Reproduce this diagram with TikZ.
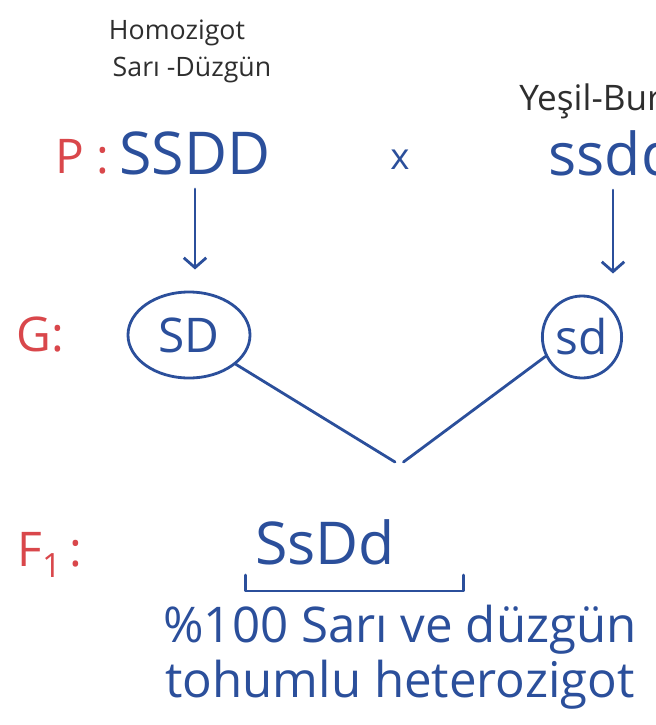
\documentclass[tikz,border=0pt]{standalone}
\usepackage{fontspec}
\setmainfont{Open Sans}
\usetikzlibrary{arrows.meta,shapes.geometric}
\definecolor{penblue}{HTML}{2B4F9B}
\definecolor{penred}{HTML}{D9474B}
\definecolor{pencil}{HTML}{2E2E2E}
\tikzset{
	gen/.style={text=penblue,font=\fontsize{42}{42}\selectfont,inner sep=0pt},
	lbl/.style={text=penred,font=\fontsize{34}{34}\selectfont,inner sep=0pt},
	note/.style={text=pencil,font=\fontsize{19}{21}\selectfont,inner sep=0pt},
	gamete/.style={draw=penblue,ellipse,line width=2pt,text=penblue,font=\fontsize{34}{34}\selectfont,inner sep=0pt},
	res/.style={text=penblue,font=\fontsize{35}{39}\selectfont,inner sep=0pt,align=center},
	pen/.style={draw=penblue,line width=2pt},
}
\begin{document}
\begin{tikzpicture}[x=0.025cm,y=-0.025cm,line join=round,line cap=round,>={Straight Barb[length=7pt,width=16pt]}]
	\useasboundingbox (0,0) rectangle (656,725);
	\clip (0,0) rectangle (656,725);
	% parents
	\node[note] (hom) at (177,33) {Homozigot};
	\node[note] (sari) at (192,70) {Sarı -Düzgün};
	\node[note,anchor=west,font=\fontsize{25}{25}\selectfont] (yes) at (519,101) {Yeşil-Buruşuk};
	\node[lbl] (P) at (82,157) {P :};
	\node[gen] (pA) at (195,153) {SSDD};
	\node[text=penblue,font=\fontsize{26}{26}\selectfont,inner sep=0pt] (cross) at (400,160) {x};
	\node[gen] (pB) at (613,153) {ssdd};
	% gametes
	\node[lbl] (G) at (40,335) {G:};
	\node[gamete,minimum width=3.05cm,minimum height=2.15cm] (gA) at (189,335) {SD};
	\node[gamete,minimum width=1.98cm,minimum height=2.05cm] (gB) at (582,337) {sd};
	\draw[pen,->] ([yshift=-10pt]pA.south) -- ([yshift=15pt]pA.south |- gA.north);
	\draw[pen,->] ([yshift=-10pt]pB.south) -- ([yshift=15pt]pB.south |- gB.north);
	\coordinate (v) at (395,462);
	\draw[pen] (gA.-32) -- (v);
	\draw[pen] (gB.208) -- ([xshift=6]v);
	% F1
	\node[lbl] (F) at (50,555) {F\textsubscript{1}\,:};
	\node[gen] (f1) at (325,542) {SsDd};
	\draw[pen] ([shift={(-9,10)}]f1.south west) |- ([shift={(68,26)}]f1.south east) -- ([shift={(68,10)}]f1.south east);
	\node[res] (res) at (400,657) {\%100 Sarı ve düzgün\\tohumlu heterozigot};
\end{tikzpicture}
\end{document}
